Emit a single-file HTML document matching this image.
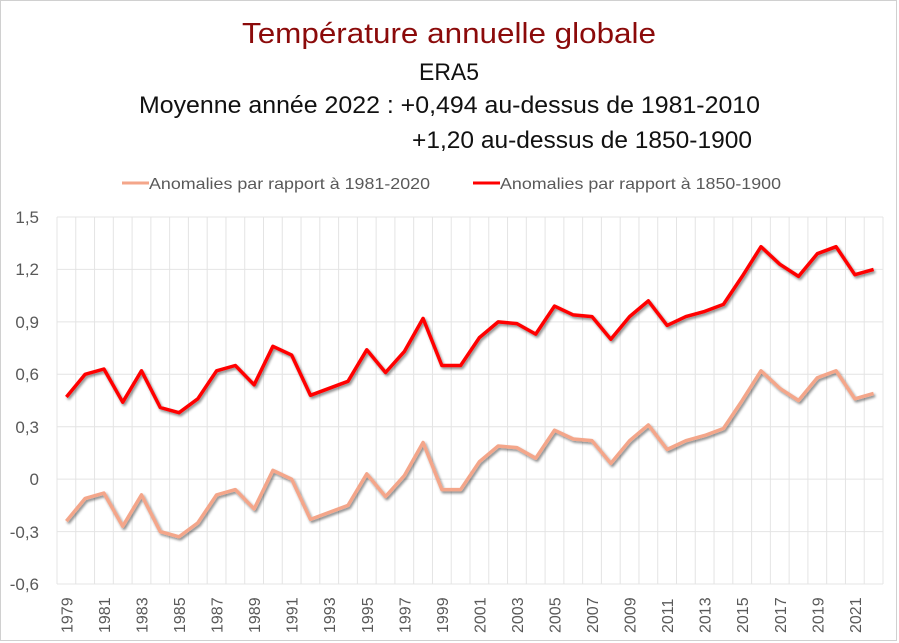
<!DOCTYPE html>
<html><head><meta charset="utf-8"><style>html,body{margin:0;padding:0;background:#fff}svg{display:block}</style></head><body>
<svg width="899" height="643" xmlns="http://www.w3.org/2000/svg" font-family="Liberation Sans, sans-serif">
<defs><filter id="sh" x="-5%" y="-10%" width="110%" height="130%"><feDropShadow dx="1.5" dy="2" stdDeviation="1.2" flood-color="#000" flood-opacity="0.45"/></filter></defs>
<rect x="0.5" y="0.5" width="896" height="640" fill="#fff" stroke="#d0d0d0"/>
<text x="449" y="43" text-anchor="middle" font-size="29" fill="#8b0a0a" textLength="414" lengthAdjust="spacingAndGlyphs">Température annuelle globale</text>
<text x="449" y="80" text-anchor="middle" font-size="24" fill="#111" textLength="60" lengthAdjust="spacingAndGlyphs">ERA5</text>
<text x="139" y="113" font-size="24" fill="#111" textLength="621" lengthAdjust="spacingAndGlyphs">Moyenne année 2022 : +0,494 au-dessus de 1981-2010</text>
<text x="412" y="148" font-size="24" fill="#111" textLength="340" lengthAdjust="spacingAndGlyphs">+1,20 au-dessus de 1850-1900</text>
<line x1="122" y1="183" x2="149" y2="183" stroke="#f4a68a" stroke-width="3"/>
<text x="149" y="189" font-size="16" fill="#595959" textLength="281" lengthAdjust="spacingAndGlyphs">Anomalies par rapport à 1981-2020</text>
<line x1="473" y1="183" x2="500" y2="183" stroke="#ff0000" stroke-width="3"/>
<text x="500" y="189" font-size="16" fill="#595959" textLength="281" lengthAdjust="spacingAndGlyphs">Anomalies par rapport à 1850-1900</text>
<g stroke="#e4e4e4" stroke-width="1">
<line x1="57" y1="217" x2="883" y2="217"/><line x1="57" y1="269.4" x2="883" y2="269.4"/><line x1="57" y1="321.9" x2="883" y2="321.9"/><line x1="57" y1="374.3" x2="883" y2="374.3"/><line x1="57" y1="426.7" x2="883" y2="426.7"/><line x1="57" y1="479.1" x2="883" y2="479.1"/><line x1="57" y1="531.6" x2="883" y2="531.6"/><line x1="57" y1="584" x2="883" y2="584"/>
<path d="M57 217V584M75.77 217V584M94.55 217V584M113.32 217V584M132.09 217V584M150.86 217V584M169.64 217V584M188.41 217V584M207.18 217V584M225.95 217V584M244.73 217V584M263.5 217V584M282.27 217V584M301.05 217V584M319.82 217V584M338.59 217V584M357.36 217V584M376.14 217V584M394.91 217V584M413.68 217V584M432.45 217V584M451.23 217V584M470 217V584M488.77 217V584M507.55 217V584M526.32 217V584M545.09 217V584M563.86 217V584M582.64 217V584M601.41 217V584M620.18 217V584M638.95 217V584M657.73 217V584M676.5 217V584M695.27 217V584M714.05 217V584M732.82 217V584M751.59 217V584M770.36 217V584M789.14 217V584M807.91 217V584M826.68 217V584M845.45 217V584M864.23 217V584M883 217V584"/>
</g>
<g font-size="17" fill="#595959" text-anchor="end">
<text x="39" y="223">1,5</text><text x="39" y="275">1,2</text><text x="39" y="328">0,9</text><text x="39" y="380">0,6</text><text x="39" y="433">0,3</text><text x="39" y="485">0</text><text x="39" y="538">-0,3</text><text x="39" y="590">-0,6</text>
</g>
<g font-size="16" fill="#595959">
<text transform="translate(72.4,633) rotate(-90)">1979</text>
<text transform="translate(109.9,633) rotate(-90)">1981</text>
<text transform="translate(147.5,633) rotate(-90)">1983</text>
<text transform="translate(185,633) rotate(-90)">1985</text>
<text transform="translate(222.6,633) rotate(-90)">1987</text>
<text transform="translate(260.1,633) rotate(-90)">1989</text>
<text transform="translate(297.7,633) rotate(-90)">1991</text>
<text transform="translate(335.2,633) rotate(-90)">1993</text>
<text transform="translate(372.8,633) rotate(-90)">1995</text>
<text transform="translate(410.3,633) rotate(-90)">1997</text>
<text transform="translate(447.8,633) rotate(-90)">1999</text>
<text transform="translate(485.4,633) rotate(-90)">2001</text>
<text transform="translate(522.9,633) rotate(-90)">2003</text>
<text transform="translate(560.5,633) rotate(-90)">2005</text>
<text transform="translate(598,633) rotate(-90)">2007</text>
<text transform="translate(635.6,633) rotate(-90)">2009</text>
<text transform="translate(673.1,633) rotate(-90)">2011</text>
<text transform="translate(710.7,633) rotate(-90)">2013</text>
<text transform="translate(748.2,633) rotate(-90)">2015</text>
<text transform="translate(785.8,633) rotate(-90)">2017</text>
<text transform="translate(823.3,633) rotate(-90)">2019</text>
<text transform="translate(860.8,633) rotate(-90)">2021</text>
</g>
<g fill="none" stroke-width="3.5" stroke-linejoin="round" filter="url(#sh)">
<polyline stroke="#ff0000" points="66.39,397 85.16,374.3 103.93,369 122.7,402.2 141.48,370.8 160.25,407.5 179.02,412.7 197.8,398.8 216.57,370.8 235.34,365.5 254.11,384.8 272.89,346.3 291.66,355.1 310.43,395.3 329.2,388.3 347.98,381.3 366.75,349.8 385.52,372.5 404.3,351.6 423.07,318.4 441.84,365.5 460.61,365.5 479.39,337.6 498.16,321.9 516.93,323.6 535.7,334.1 554.48,306.1 573.25,314.9 592.02,316.6 610.8,339.3 629.57,316.6 648.34,300.9 667.11,325.4 685.89,316.6 704.66,311.4 723.43,304.4 742.2,276.4 760.98,246.7 779.75,264.2 798.52,276.4 817.3,253.7 836.07,246.7 854.84,274.7 873.61,269.4"/>
<polyline stroke="#f4a68a" transform="translate(0,124.08)" points="66.39,397 85.16,374.3 103.93,369 122.7,402.2 141.48,370.8 160.25,407.5 179.02,412.7 197.8,398.8 216.57,370.8 235.34,365.5 254.11,384.8 272.89,346.3 291.66,355.1 310.43,395.3 329.2,388.3 347.98,381.3 366.75,349.8 385.52,372.5 404.3,351.6 423.07,318.4 441.84,365.5 460.61,365.5 479.39,337.6 498.16,321.9 516.93,323.6 535.7,334.1 554.48,306.1 573.25,314.9 592.02,316.6 610.8,339.3 629.57,316.6 648.34,300.9 667.11,325.4 685.89,316.6 704.66,311.4 723.43,304.4 742.2,276.4 760.98,246.7 779.75,264.2 798.52,276.4 817.3,253.7 836.07,246.7 854.84,274.7 873.61,269.4"/>
</g>
</svg>
</body></html>
